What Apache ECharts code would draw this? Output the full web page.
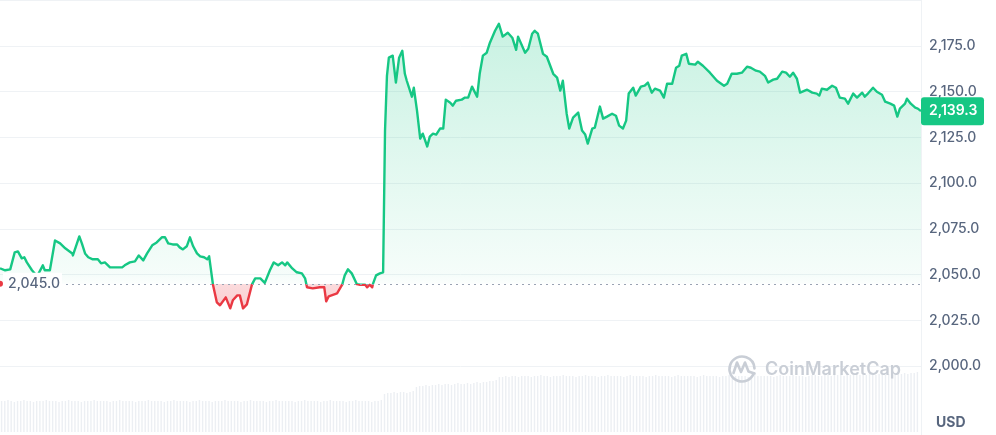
<!DOCTYPE html>
<html><head><meta charset="utf-8">
<script src="https://cdn.jsdelivr.net/npm/echarts@6/dist/echarts.min.js"></script>
<style>html,body{margin:0;padding:0;background:#fff}#c{width:996px;height:435px}</style>
</head><body><div id="c"></div>
<script>
// time in minutes over the 24h window
const minutes = [
 0,8,16,23,28,34,38,42,50,58,
 67,70,78,86,94,102,113,114,124,128,
 133,138,145,153,158,164,167,172,180,191,
 195,203,211,217,224,230,238,245,253,258,
 263,270,277,281,286,292,297,302,308,313,
 319,324,327,333,339,344,347,353,356,360,
 364,371,375,380,386,394,399,407,414,422,
 428,435,441,446,449,457,464,472,477,480,
 489,500,507,510,514,527,535,539,544,550,
 558,563,571,574,578,582,583,588,594,599,
 602,605,608,614,619,624,629,633,636,644,
 647,652,657,661,668,672,677,682,688,693,
 697,704,708,713,722,727,732,738,746,750,
 755,761,766,774,780,786,794,801,807,810,
 821,826,832,836,841,849,855,865,871,876,
 880,886,890,896,904,910,915,919,926,930,
 938,943,949,957,963,968,974,979,983,990,
 994,1002,1008,1013,1019,1024,1032,1038,1043,1051,
 1057,1062,1066,1073,1077,1087,1091,1099,1110,1121,
 1132,1137,1144,1152,1160,1168,1174,1182,1188,1196,
 1201,1209,1215,1223,1229,1235,1240,1246,1251,1262,
 1270,1277,1281,1285,1293,1301,1307,1313,1321,1326,
 1334,1340,1348,1352,1357,1365,1371,1379,1384,1392,
 1398,1403,1407,1415,1418,1424,1431,1435,1440
];
const prices = [
 2053.5,2052.4,2052.9,2062.2,2062.7,2058.9,2059.5,2056.7,2052.4,2049.1,
 2055.1,2052.4,2052.4,2068.7,2067.1,2064.4,2061.6,2060.5,2070.9,2067.1,
 2061.6,2059.5,2058.4,2058.4,2056.2,2056.7,2056.7,2054.0,2054.0,2054.0,
 2055.1,2056.7,2057.3,2060.5,2057.8,2061.6,2066.0,2067.6,2070.4,2070.4,
 2067.1,2066.5,2066.5,2064.9,2063.8,2065.5,2070.4,2065.5,2061.6,2060.0,
 2059.5,2058.4,2060.0,2044.5,2034.9,2033.3,2033.8,2037.6,2037.6,2031.6,
 2036.0,2038.7,2038.7,2031.6,2033.8,2044.7,2048.0,2048.0,2045.5,2052.4,
 2056.7,2055.1,2056.7,2055.1,2056.7,2053.4,2051.3,2050.7,2048.0,2043.1,
 2042.5,2043.1,2043.1,2035.4,2038.2,2039.8,2044.5,2049.6,2052.9,2050.7,
 2044.8,2044.5,2044.5,2043.1,2044.5,2043.1,2044.8,2049.6,2050.7,2051.3,
 2128.7,2158.6,2168.5,2169.6,2154.9,2168.5,2172.3,2159.7,2155.9,2147.2,
 2152.1,2139.6,2124.3,2127.0,2120.0,2125.4,2127.0,2126.5,2129.8,2129.8,
 2145.6,2143.9,2142.3,2145.0,2145.6,2146.7,2146.7,2152.7,2147.2,2159.7,
 2169.6,2171.2,2176.7,2183.2,2187.0,2180.0,2182.1,2179.4,2172.8,2180.0,
 2171.2,2173.4,2181.6,2183.2,2181.6,2170.6,2169.0,2159.7,2157.6,2150.5,
 2155.9,2137.9,2129.8,2135.8,2138.5,2128.7,2126.5,2121.6,2129.8,2130.3,
 2141.8,2135.2,2136.3,2137.9,2136.8,2131.4,2129.8,2134.1,2148.9,2152.1,
 2147.8,2152.7,2153.2,2154.9,2149.4,2151.6,2150.5,2146.7,2154.3,2154.3,
 2163.0,2164.1,2169.6,2170.6,2165.2,2164.7,2166.3,2164.1,2160.3,2155.9,
 2153.2,2154.3,2159.7,2159.7,2160.3,2163.6,2163.0,2161.4,2160.9,2158.6,
 2154.9,2156.5,2157.0,2160.9,2160.3,2158.1,2160.3,2157.0,2149.4,2151.0,
 2149.4,2148.9,2147.8,2151.6,2151.0,2153.2,2152.1,2146.7,2146.1,2143.4,
 2148.9,2146.7,2149.4,2147.2,2148.9,2152.1,2149.9,2148.3,2144.5,2143.4,
 2142.3,2136.3,2140.7,2143.4,2146.1,2143.4,2141.2,2140.7,2139.3
];
const BASELINE = 2045.0;
const LAST_PRICE = 2139.3;
const Y_MIN = 1975, Y_MAX = 2200, Y_STEP = 25;
const UNIT_LABEL = 'USD';
const WATERMARK = 'CoinMarketCap';
// relative volume bars (5-minute buckets)
const volume = [
 31,31,32,31,30,31,31,32,31,31,30,31,31,31,32,31,31,31,30,31,
 31,32,31,31,31,30,31,31,31,32,31,31,31,31,30,31,31,32,31,31,
 31,31,30,31,31,31,32,31,31,31,31,30,31,31,32,31,31,31,31,30,
 31,31,32,31,31,31,30,31,31,31,32,31,31,31,31,30,31,31,32,31,
 31,31,31,30,31,31,32,31,31,31,31,31,30,31,31,32,31,31,31,31,
 30,31,31,32,31,31,31,31,30,31,31,32,31,31,31,31,30,31,31,32,
 38,39,39,40,39,40,40,39,40,41,45,46,46,47,46,47,47,48,47,48,
 48,47,48,49,48,48,49,48,49,50,49,50,50,51,51,52,55,55,56,55,
 56,56,55,56,56,56,55,56,56,57,56,56,55,56,56,56,57,56,56,56,
 55,56,56,57,56,56,56,55,56,56,57,56,56,56,56,55,56,57,56,56,
 56,56,55,56,56,57,56,56,56,56,55,56,57,56,56,56,56,56,55,56,
 57,56,56,56,56,55,56,56,57,56,56,56,56,56,55,56,57,56,56,56,
 56,56,55,56,57,56,56,56,57,56,56,56,55,56,57,57,56,56,57,57,
 56,57,57,57,56,57,57,57,58,57,57,57,58,57,57,58,58,57,58,58,
 58,58,58,59,58,59,59,60
];

const GREEN = '#16c784', RED = '#ea3943', GRAY = '#58667e';
const FONT = 'Inter, "Noto Sans", sans-serif';
const fmt = v => Number(v).toLocaleString('en-US', {minimumFractionDigits:1, maximumFractionDigits:1});

const chart = echarts.init(document.getElementById('c'), null, {renderer:'canvas'});
const option = {
  animation: false,
  backgroundColor: '#fff',
  grid: [
    {left: 0, right: 75, top: 0, bottom: 23, outerBoundsMode: 'none', containLabel: false},
    {left: 0, right: 77, top: 332, bottom: 3, outerBoundsMode: 'none', containLabel: false}
  ],
  xAxis: [
    {type: 'value', gridIndex: 0, min: 0, max: 1440, show: false},
    {type: 'category', gridIndex: 1, data: volume.map((_, i) => i), show: false, boundaryGap: true}
  ],
  yAxis: [
    {type: 'value', gridIndex: 0, position: 'right', min: Y_MIN, max: Y_MAX, interval: Y_STEP,
     axisLine: {show: false}, axisTick: {show: false},
     axisLabel: {show: true, margin: 8, color: GRAY, fontSize: 14, fontWeight: 500, fontFamily: FONT,
       showMinLabel: false, showMaxLabel: false, formatter: v => fmt(v)},
     splitLine: {show: true, showMinLine: false, lineStyle: {color: '#eff2f5', width: 1}}},
    {type: 'value', gridIndex: 1, min: 0, max: 100, show: false, splitLine: {show: false}}
  ],
  series: [
    {type: 'line', xAxisIndex: 0, yAxisIndex: 0, z: 3,
     data: minutes.map((m, i) => [m, prices[i]]),
     showSymbol: false, symbol: 'none',
     lineStyle: {width: 2.4, color: GREEN, join: 'round'},
     areaStyle: {origin: BASELINE, color: 'rgba(22,199,132,0.15)'},
     markLine: {silent: true, symbol: 'none', animation: false,
       label: {show: false},
       lineStyle: {type: [2, 4], color: '#9aa3b3', width: 1},
       data: [{yAxis: BASELINE}]}
    },
    {type: 'bar', xAxisIndex: 1, yAxisIndex: 1, z: 1, data: volume, barWidth: 1.4,
     itemStyle: {color: '#eceff3'}, silent: true}
  ]
};
chart.setOption(option);

const H = chart.getHeight(), W = chart.getWidth();
const yb = chart.convertToPixel({yAxisIndex: 0}, BASELINE);
const yLast = chart.convertToPixel({yAxisIndex: 0}, LAST_PRICE);
const xRight = chart.convertToPixel({xAxisIndex: 0}, 1440);
const fb = yb / H;
const areaGrad = new echarts.graphic.LinearGradient(0, 0, 0, H, [
  {offset: 0, color: 'rgba(22,199,132,0.36)'},
  {offset: (yb - 8) / H, color: 'rgba(22,199,132,0.06)'},
  {offset: fb, color: 'rgba(22,199,132,0.02)'},
  {offset: fb + 0.0001, color: 'rgba(234,57,67,0.26)'},
  {offset: (yb + 26) / H, color: 'rgba(234,57,67,0.36)'},
  {offset: 1, color: 'rgba(234,57,67,0.36)'}
], true);
const lineGrad = new echarts.graphic.LinearGradient(0, 0, 0, H, [
  {offset: 0, color: GREEN},
  {offset: fb, color: GREEN},
  {offset: fb + 0.0001, color: RED},
  {offset: 1, color: RED}
], true);

const cx = 742, cy = 369;
chart.setOption({
  series: [{lineStyle: {color: lineGrad}, areaStyle: {origin: BASELINE, color: areaGrad}}],
  graphic: [
    {type: 'line', z: 50, silent: true, shape: {x1: xRight + 0.5, y1: 0, x2: xRight + 0.5, y2: H},
     style: {stroke: '#eff2f5', lineWidth: 1}},
    // baseline label
    {type: 'rect', z: 60, silent: true, shape: {x: 3, y: yb - 11, width: 59, height: 22},
     style: {fill: '#fff'}},
    {type: 'circle', z: 61, silent: true, shape: {cx: 0, cy: yb, r: 3}, style: {fill: RED}},
    {type: 'text', z: 61, silent: true, x: 8, y: yb,
     style: {text: fmt(BASELINE), fill: GRAY, font: '500 14px ' + FONT, verticalAlign: 'middle'}},
    // current price tag
    {type: 'rect', z: 70, silent: true, shape: {x: xRight, y: yLast - 14, width: 63, height: 28, r: 3},
     style: {fill: GREEN}},
    {type: 'text', z: 71, silent: true, x: xRight + 8, y: yLast,
     style: {text: fmt(LAST_PRICE), fill: '#fff', font: '600 14px ' + FONT, verticalAlign: 'middle'}},
    // unit label
    {type: 'text', z: 60, silent: true, x: xRight + 15, y: H - 12,
     style: {text: UNIT_LABEL, fill: GRAY, font: 'bold 14px ' + FONT, verticalAlign: 'middle'}},
    // watermark
    {type: 'arc', z: 40, silent: true, shape: {cx: cx, cy: cy, r: 12.5, startAngle: 0.35, endAngle: Math.PI * 2 - 0.05},
     style: {stroke: '#c9ced6', lineWidth: 2.6, fill: null, lineCap: 'round'}},
    {type: 'polyline', z: 40, silent: true,
     shape: {points: [[733.5, 373], [737, 362.5], [741, 372], [745, 362.5], [748.5, 371.5], [754.5, 373.5]]},
     style: {stroke: '#c9ced6', lineWidth: 2.6, fill: null, lineJoin: 'round', lineCap: 'round'}},
    {type: 'text', z: 40, silent: true, x: 765, y: cy + 1,
     style: {text: WATERMARK, fill: '#c9ced6', font: '600 18px ' + FONT, verticalAlign: 'middle'}}
  ]
});
</script>
</body></html>
